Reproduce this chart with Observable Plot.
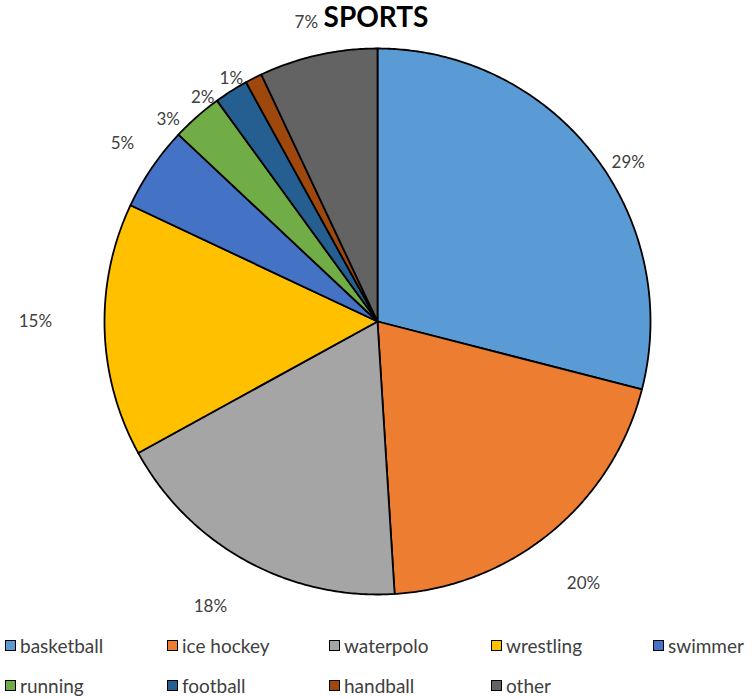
<!DOCTYPE html>
<html>
<head>
<meta charset="utf-8">
<script src="https://cdn.jsdelivr.net/npm/d3@7"></script>
<script src="https://cdn.jsdelivr.net/npm/@observablehq/plot@0.6"></script>
<style>
  html, body { margin: 0; padding: 0; background: #fff; }
  body { width: 752px; height: 698px; overflow: hidden; position: relative; font-family: Lato, "Noto Sans", sans-serif; }
  #title { position: absolute; left: 0; top: 0; width: 752px; height: 34px; line-height: 32px; text-align: center; font-weight: bold; font-size: 28px; color: #000; z-index: 2; }
  #chart svg { display: block; }
  #legend { display: grid; grid-template-columns: repeat(5, 162px); padding-left: 5px; row-gap: 0; }
  .item { height: 40px; display: flex; align-items: center; font-size: 19px; color: #404040; }
  .sw { width: 9px; height: 9px; border: 1.5px solid #000; margin-right: 4px; flex: none; }
</style>
</head>
<body>
<div id="title">SPORTS</div>
<div id="chart"></div>
<div id="legend"></div>
<script>
// data
const categories = ["basketball", "ice hockey", "waterpolo", "wrestling", "swimmer", "running", "football", "handball", "other"];
const values = [29, 20, 18, 15, 5, 3, 2, 1, 7];
const labels = ["29%", "20%", "18%", "15%", "5%", "3%", "2%", "1%", "7%"];

// styles / layout
const colors = ["#5B9BD5", "#ED7D31", "#A5A5A5", "#FFC000", "#4472C4", "#70AD47", "#255E91", "#9E480E", "#636363"];
const labelDist = [1.088, 1.22, 1.21, 1.253, 1.139, 1.066, 1.04, 1.04, 1.125]; // label distance from centre, in pie radii
const labelShift = [5.4, 1.4, 1.6, 1.8, 0.7, -4.6, -5.6, -4, -0.8];           // label angle nudge from slice middle, degrees

const total = d3.sum(values);
let acc = 0;
const slices = values.map((v, i) => {
  const a0 = acc / total * 2 * Math.PI;
  acc += v;
  const a1 = acc / total * 2 * Math.PI;
  return {cat: categories[i], a0, a1, mid: (a0 + a1) / 2, label: labels[i], dist: labelDist[i], shift: labelShift[i] * Math.PI / 180};
});

const pts = [];
for (const s of slices) {
  pts.push({cat: s.cat, x: 0, y: 0});
  const n = Math.max(2, Math.ceil((s.a1 - s.a0) / (Math.PI / 360)));
  for (let k = 0; k <= n; k++) {
    const a = s.a0 + (s.a1 - s.a0) * k / n;
    pts.push({cat: s.cat, x: Math.sin(a), y: Math.cos(a)});
  }
  pts.push({cat: s.cat, x: 0, y: 0});
}

const labelData = slices.map(s => {
  const a = s.mid + s.shift;
  return {x: s.dist * Math.sin(a), y: s.dist * Math.cos(a), label: s.label};
});

const cx = 377, cy = 321, R = 273;
const chart = Plot.plot({
  width: 752,
  height: 625,
  margin: 0,
  x: {domain: [-1, 1], range: [cx - R, cx + R], axis: null},
  y: {domain: [-1, 1], range: [cy + R, cy - R], axis: null},
  color: {domain: categories, range: colors},
  marks: [
    Plot.line(pts, {x: "x", y: "y", z: "cat", fill: "cat", stroke: "#000", strokeWidth: 1.8, strokeLinejoin: "round", curve: "linear"}),
    Plot.text(labelData, {x: "x", y: "y", text: "label", fontSize: 17, fill: "#404040", textAnchor: "middle", fontFamily: "Lato, 'Noto Sans', sans-serif"})
  ]
});
document.getElementById("chart").appendChild(chart);

const legend = document.getElementById("legend");
categories.forEach((c, i) => {
  const it = document.createElement("div");
  it.className = "item";
  const sw = document.createElement("span");
  sw.className = "sw";
  sw.style.background = colors[i];
  const t = document.createElement("span");
  t.textContent = c;
  it.appendChild(sw);
  it.appendChild(t);
  legend.appendChild(it);
});
</script>
</body>
</html>
